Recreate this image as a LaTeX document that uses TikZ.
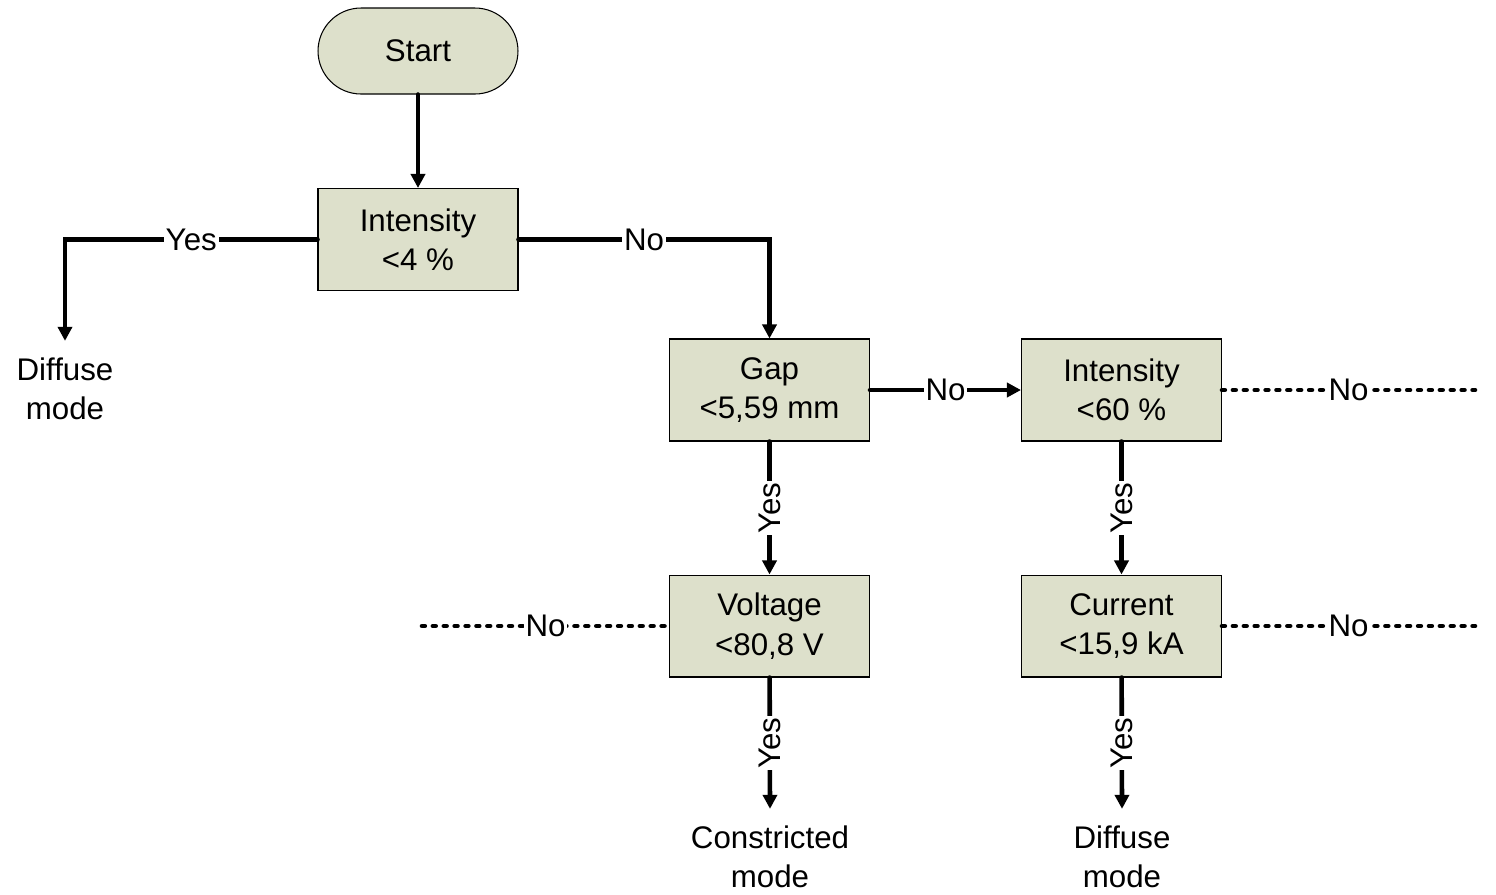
\documentclass[tikz,border=0pt]{standalone}
\usepackage{fontspec}
\setmainfont{Liberation Sans}
\usetikzlibrary{arrows.meta}
\definecolor{boxfill}{HTML}{DDE0CB}

\begin{document}
\begin{tikzpicture}[
    x=0.02cm, y=-0.02cm,
    font=\fontsize{17.8}{22.4}\selectfont,
    box/.style={draw, line width=0.6pt, fill=boxfill, minimum width=4cm, minimum height=2.04cm, align=center},
    term/.style={box, minimum height=1.72cm, rounded corners=0.86cm},
    outtext/.style={align=center, inner sep=0pt, outer sep=0.34cm},
    arrow/.style={-{Triangle[length=8pt, width=8pt]}, line width=2.6pt, line cap=round},
    dotline/.style={line width=2.6pt, line cap=round, dash pattern=on 1.6pt off 4.6pt},
    lbl/.style={fill=white, inner sep=1pt}
]
\useasboundingbox (0,0) rectangle (1496,894);

% Start
\node[term] (start) at (418,51) {Start};

% Decisions
\node[box] (int1) at (418,239.5) {Intensity\\<4 \%};
\node[box] (gap) at (769.5,390) {Gap\\<5,59 mm};
\node[box] (int2) at (1121.5,390) {Intensity\\<60 \%};
\node[box] (volt) at (769.5,626) {Voltage\\<80,8 V};
\node[box] (curr) at (1121.5,626) {Current\\<15,9 kA};

% Outcomes
\node[outtext] (diff1) at (65,389) {Diffuse\\mode};
\node[outtext] (constr) at (770,857) {Constricted\\mode};
\node[outtext] (diff2) at (1122,857) {Diffuse\\mode};

% Open ends
\coordinate (open1) at (1475,390);
\coordinate (open2) at (422,626);
\coordinate (open3) at (1475,626);

% Arrows
\draw[arrow] (start) -- (int1);
\draw[arrow] (int1.west) -| node[lbl, pos=0.25] {Yes} (diff1.north);
\draw[arrow] (int1.east) -| node[lbl, pos=0.25] {No} (gap.north);
\draw[arrow] (gap) -- node[lbl] {No} (int2);
\draw[arrow] (gap) -- node[lbl, rotate=90] {Yes} (volt);
\draw[arrow] (int2) -- node[lbl, rotate=90] {Yes} (curr);
\draw[arrow] (volt) -- node[lbl, rotate=90] {Yes} (constr.north);
\draw[arrow] (curr) -- node[lbl, rotate=90] {Yes} (diff2.north);

% Dotted branches
\draw[dotline] (int2.east) -- node[lbl] {No} (open1);
\draw[dotline] (open2) -- node[lbl] {No} (volt.west);
\draw[dotline] (curr.east) -- node[lbl] {No} (open3);
\end{tikzpicture}
\end{document}
